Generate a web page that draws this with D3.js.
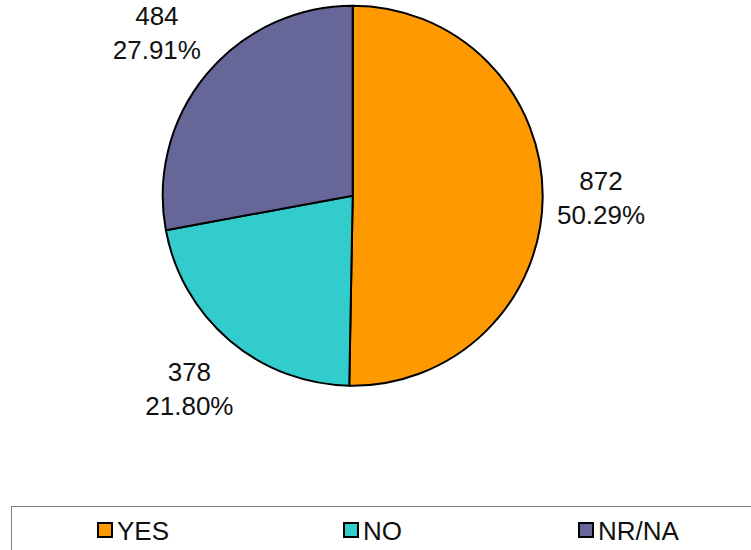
<!DOCTYPE html>
<html>
<head>
<meta charset="utf-8">
<script src="https://cdn.jsdelivr.net/npm/d3@7"></script>
<style>
  body { margin: 0; background: #fff; }
  svg { display: block; font-family: "Liberation Sans", Arial, sans-serif; }
</style>
</head>
<body>
<div id="chart"></div>
<script>
// data
const categories = ["YES", "NO", "NR/NA"];
const counts = [872, 378, 484];
const colors = ["#FF9900", "#33CCCC", "#666699"];

const W = 751, H = 550;
const cx = 352.7, cy = 195.7, R = 190;

const svg = d3.select("#chart").append("svg")
  .attr("width", W)
  .attr("height", H);

const total = d3.sum(counts);
const data = categories.map((c, i) => ({ cat: c, n: counts[i], pct: counts[i] / total * 100 }));

const pie = d3.pie().sort(null).value(d => d.n);
const arcs = pie(data);

const arc = d3.arc().innerRadius(0).outerRadius(R);

const g = svg.append("g").attr("transform", `translate(${cx},${cy})`);

g.selectAll("path.slice")
  .data(arcs)
  .enter()
  .append("path")
  .attr("class", "slice")
  .attr("d", arc)
  .attr("fill", (d, i) => colors[i])
  .attr("stroke", "#000")
  .attr("stroke-width", 2)
  .attr("stroke-linejoin", "round");

// labels outside the pie, box pushed out so it clears the rim
const lblSize = 26, lineGap = 34, gap = 14;
const lbl = g.selectAll("text.lbl")
  .data(arcs)
  .enter()
  .append("text")
  .attr("class", "lbl")
  .attr("text-anchor", "middle")
  .style("font-size", lblSize + "px")
  .style("fill", "#111");

lbl.append("tspan").attr("class", "l1").attr("x", 0).text(d => d.data.n);
lbl.append("tspan").attr("class", "l2").attr("x", 0).attr("dy", lineGap).text(d => d.data.pct.toFixed(2) + "%");

lbl.each(function (d) {
  const t = d3.select(this);
  const w = this.getBBox().width;
  const h = lineGap + lblSize * 0.72;
  const a = (d.startAngle + d.endAngle) / 2;
  const ux = Math.sin(a), uy = -Math.cos(a);
  const r = R + gap + Math.abs(ux) * w / 2 + Math.abs(uy) * h / 2;
  const x = ux * r, y = uy * r;
  // first baseline so that the block is centred at y
  t.attr("transform", `translate(${x},${y - h / 2 + lblSize * 0.72})`);
});

// legend
svg.append("rect")
  .attr("x", 11.5).attr("y", 506.5)
  .attr("width", 760).attr("height", 60)
  .attr("fill", "#fff")
  .attr("stroke", "#808080")
  .attr("stroke-width", 1);

const legendX = [97, 343, 578];
const leg = svg.selectAll("g.leg")
  .data(data)
  .enter()
  .append("g")
  .attr("class", "leg")
  .attr("transform", (d, i) => `translate(${legendX[i]},522)`);

leg.append("rect")
  .attr("x", 1).attr("y", 1)
  .attr("width", 14).attr("height", 14)
  .attr("fill", (d, i) => colors[i])
  .attr("stroke", "#000")
  .attr("stroke-width", 2);

leg.append("text")
  .attr("x", 20)
  .attr("y", 17.5)
  .style("font-size", "26px")
  .style("fill", "#111")
  .text(d => d.cat);
</script>
</body>
</html>
